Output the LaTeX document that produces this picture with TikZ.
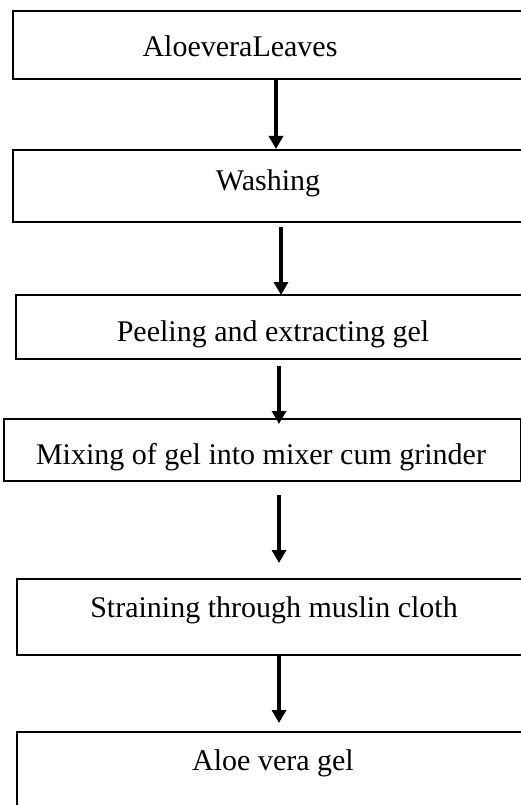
\documentclass[tikz,border=0pt]{standalone}
\usepackage{fontspec}
\setmainfont{Liberation Serif}
\usetikzlibrary{arrows.meta}
\begin{document}
\begin{tikzpicture}[x=1pt, y=-1pt,
  box/.style={draw=black, line width=1.6pt, fill=none, inner sep=0pt, anchor=north west},
  lbl/.style={font=\fontsize{30}{36}\selectfont, anchor=base, inner sep=0pt},
  flow/.style={draw=black, line width=3.4pt, -{Triangle[width=14pt, length=13pt]}}]
\useasboundingbox (0,0) rectangle (521,805);
% process boxes
\node[box, minimum width=528pt, minimum height=68pt] (b1) at (12,10) {};
\node[box, minimum width=528pt, minimum height=72pt] (b2) at (12,149) {};
\node[box, minimum width=525pt, minimum height=64pt] (b3) at (15,294) {};
\node[box, minimum width=517pt, minimum height=62pt] (b4) at (3,418) {};
\node[box, minimum width=524pt, minimum height=76pt] (b5) at (16,578) {};
\node[box, minimum width=524pt, minimum height=100pt] (b6) at (16,731) {};
% step labels
\node[lbl] (t1) at (240,57) {AloeveraLeaves};
\node[lbl] (t2) at (268,190) {Washing};
\node[lbl] (t3) at (273,341.5) {Peeling and extracting gel};
\node[lbl] (t4) at (261,464) {Mixing of gel into mixer cum grinder};
\node[lbl] (t5) at (274,617) {Straining through muslin cloth};
\node[lbl] (t6) at (273,770) {Aloe vera gel};
% connectors
\coordinate (s2) at (281,227);
\coordinate (s3) at (279,366);
\coordinate (s4) at (279,495);
\draw[flow] (b1.south -| 276,0) -- (b2.north -| 276,0);
\draw[flow] (s2) -- ([yshift=-1pt]b3.north -| s2);
\draw[flow] (s3) -- ([yshift=-6pt]b4.north -| s3);
\draw[flow] (s4) -- ([yshift=15pt]b5.north -| s4);
\draw[flow] (b5.south -| 279,0) -- ([yshift=8pt]b6.north -| 279,0);
\end{tikzpicture}
\end{document}
